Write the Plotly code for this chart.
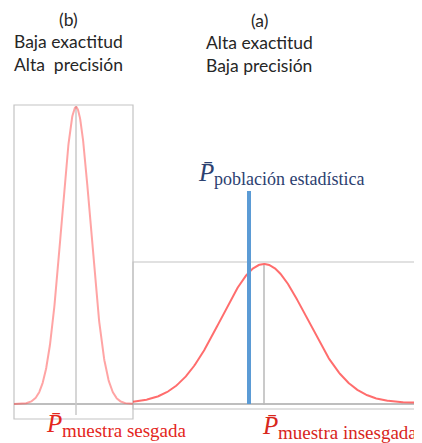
import numpy as np
import plotly.graph_objects as go

# ---- data (in the chart's own drawing units) ----
cases = ["(b)", "(a)"]
accuracy = ["Baja exactitud", "Alta exactitud"]
precision = ["Alta  precisión", "Baja precisión"]
sample_means = [76, 264]          # centre of each sampling distribution
sample_sigmas = [14.5, 43]        # spread of each distribution
sample_peaks = [297, 139]         # height of each peak above its baseline
segment_start = [14, 133]
segment_end = [133, 430]
baselines = [404, 403]
population_mean = 249
sample_labels = ["muestra sesgada", "muestra insesgada"]
population_label = "población estadística"

BASE = 404
OFF = 8  # page body margin
fig = go.Figure()

# frames of the two panels
fig.add_shape(type="rect", x0=14, x1=133, y0=105, y1=419,
              line=dict(color="#c4c4c4", width=1.2), layer="below")
fig.add_shape(type="rect", x0=133, x1=440, y0=262, y1=409,
              line=dict(color="#c4c4c4", width=1.2), layer="below")
# baseline
fig.add_shape(type="line", x0=14, x1=430, y0=BASE, y1=BASE,
              line=dict(color="#a8a8a8", width=1.5), layer="below")
# mean lines
fig.add_shape(type="line", x0=sample_means[0], x1=sample_means[0], y0=106, y1=415,
              line=dict(color="#c8c8c8", width=1.5), layer="below")
fig.add_shape(type="line", x0=sample_means[1], x1=sample_means[1], y0=265, y1=405,
              line=dict(color="#b8b8b8", width=1.5), layer="below")

colors = ["rgba(255,90,90,0.55)", "rgba(255,60,60,0.75)"]
for i in range(2):
    xs = np.linspace(segment_start[i], segment_end[i], 400)
    ys = baselines[i] - sample_peaks[i] * np.exp(-0.5 * ((xs - sample_means[i]) / sample_sigmas[i]) ** 2)
    fig.add_trace(go.Scatter(x=xs, y=ys, mode="lines",
                             line=dict(color=colors[i], width=2),
                             hoverinfo="skip", showlegend=False))

# population mean
fig.add_trace(go.Scatter(x=[population_mean, population_mean], y=[191, 404], mode="lines",
                         line=dict(color="#5b9bd5", width=4),
                         hoverinfo="skip", showlegend=False))

title_font = dict(family="Lato", size=17.5, color="#262626")
title_x = [68, 259]
title_y = [19, 20]
for i in range(2):
    fig.add_annotation(x=title_x[i], y=title_y[i], text=cases[i], showarrow=False,
                       font=title_font, xanchor="center", yanchor="middle")
    fig.add_annotation(x=title_x[i], y=title_y[i] + 22.5, text=accuracy[i], showarrow=False,
                       font=title_font, xanchor="center", yanchor="middle")
    fig.add_annotation(x=title_x[i], y=title_y[i] + 45, text=precision[i], showarrow=False,
                       font=title_font, xanchor="center", yanchor="middle")

serif = "Liberation Serif"
def pbar(x, y, sub, color, size):
    fig.add_annotation(x=x, y=y, text="<i>P̄</i>", showarrow=False,
                       font=dict(family=serif, size=25, color=color),
                       xanchor="left", yanchor="middle")
    fig.add_annotation(x=x + 16, y=y + 7, text=sub, showarrow=False,
                       font=dict(family=serif, size=size, color=color),
                       xanchor="left", yanchor="middle")

pbar(196, 172, population_label, "#2c4170", 18)
pbar(44, 423, sample_labels[0], "#e4261c", 19)
pbar(260, 425, sample_labels[1], "#d8261c", 19)

fig.update_layout(width=422, height=443, margin=dict(l=0, r=0, t=0, b=0),
                  paper_bgcolor="white", plot_bgcolor="white",
                  xaxis=dict(range=[OFF, 422 + OFF], visible=False, fixedrange=True),
                  yaxis=dict(range=[443 + OFF, OFF], visible=False, fixedrange=True))
fig.write_html("out.html")
